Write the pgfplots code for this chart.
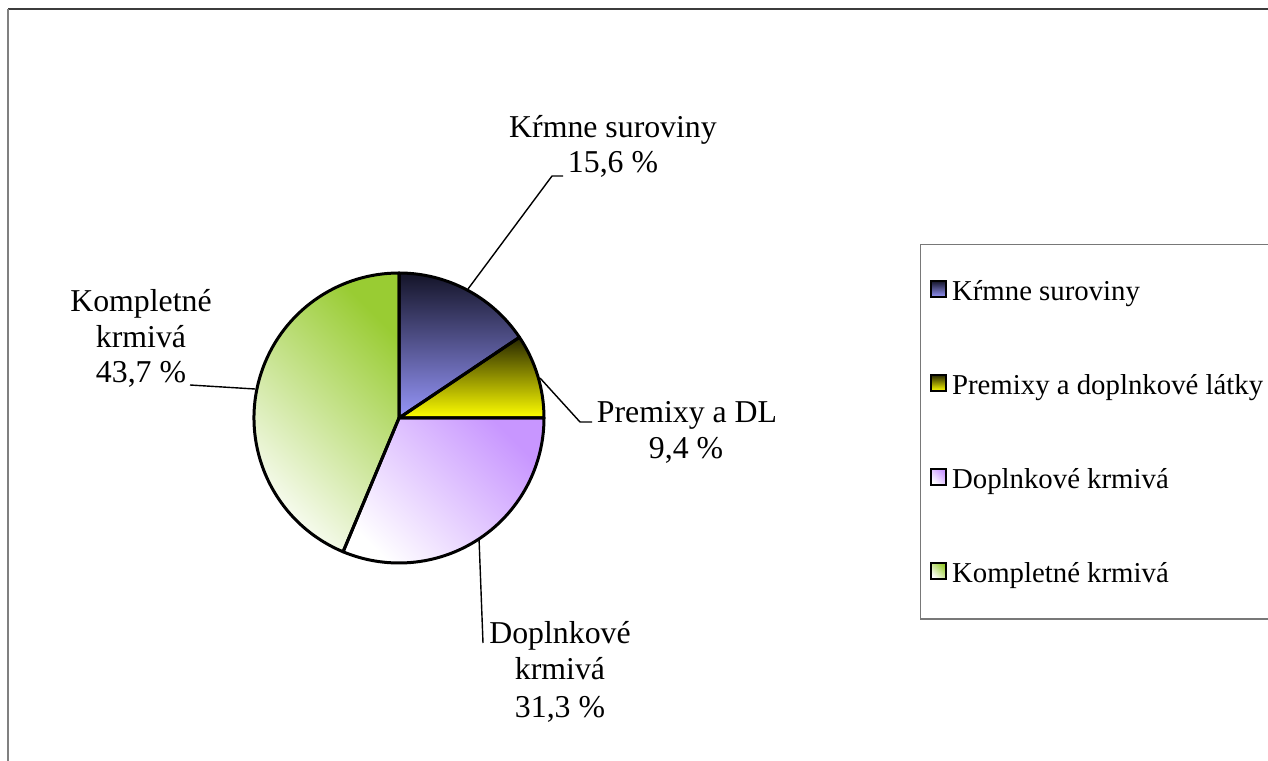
\documentclass[border=0pt]{standalone}
\usepackage{fontspec}
\setmainfont{Liberation Serif}
\usepackage{pgfplots}
\usepackage{pgfplotstable}
\pgfplotsset{compat=1.18}

\definecolor{ksTop}{RGB}{20,20,40}
\definecolor{ksBot}{RGB}{150,150,250}
\definecolor{pmTop}{RGB}{38,38,0}
\definecolor{pmBot}{RGB}{255,255,0}
\definecolor{dkBase}{RGB}{200,150,255}
\definecolor{kkBase}{RGB}{153,204,51}
\definecolor{frameTop}{RGB}{60,60,60}
\definecolor{frameLeft}{RGB}{128,128,128}
\definecolor{legFrame}{RGB}{120,120,120}

\tikzset{
  ksFill/.style={top color=ksTop, bottom color=ksBot},
  pmFill/.style={top color=pmTop, bottom color=pmBot},
  dkFill/.style={top color=dkBase, bottom color=white, shading angle=-45},
  kkFill/.style={top color=kkBase, bottom color=white, shading angle=-45},
  lbl/.style={anchor=base, font=\fontsize{31.8}{35.5}\selectfont, inner sep=0pt},
  leader/.style={line width=1.4pt, black},
  wedgeline/.style={line width=3pt, line join=round, black},
  legmark/.style={line width=2.4pt, black},
}

% shares in percent
\pgfplotstableread{
share
15.6
9.4
31.3
43.7
}\piedata
\pgfplotstablegetelem{0}{share}\of\piedata \let\vA\pgfplotsretval
\pgfplotstablegetelem{1}{share}\of\piedata \let\vB\pgfplotsretval
\pgfplotstablegetelem{2}{share}\of\piedata \let\vC\pgfplotsretval
\pgfplotstablegetelem{3}{share}\of\piedata \let\vD\pgfplotsretval

\pgfmathsetmacro\aA{90}
\pgfmathsetmacro\aB{\aA-3.6*\vA}
\pgfmathsetmacro\aC{\aB-3.6*\vB}
\pgfmathsetmacro\aD{\aC-3.6*\vC}
\pgfmathsetmacro\aE{\aD-3.6*\vD}

\begin{document}
\begin{tikzpicture}
\useasboundingbox (0,0) rectangle (1268pt,760pt);
\begin{axis}[
  x=1pt, y=1pt, xmin=0, xmax=1268, ymin=0, ymax=760,
  hide axis, clip=false, at={(0,0)}, anchor=origin,
  legend cell align=left,
  legend style={
    at={(axis cs:920,516)}, anchor=north west,
    draw=legFrame, line width=1.3pt,
    font=\fontsize{28.8}{32}\selectfont,
    inner xsep=9pt, inner ysep=30pt,
    row sep=61.5pt,
    nodes={inner sep=0pt, text height=26pt, text depth=6.5pt},
    /tikz/every odd column/.append style={column sep=5pt},
  },
]
% frame of the chart area
\draw[frameTop, line width=2pt] (axis cs:8,751) -- (axis cs:1290,751);
\draw[frameLeft, line width=2pt] (axis cs:8,751) -- (axis cs:8,-10);

% pie wedges
\shade[ksFill] (axis cs:399,342) -- ++(\aA:145pt) arc[start angle=\aA, end angle=\aB, radius=145pt] -- cycle;
\shade[pmFill] (axis cs:399,342) -- ++(\aB:145pt) arc[start angle=\aB, end angle=\aC, radius=145pt] -- cycle;
\shade[dkFill] (axis cs:399,342) -- ++(\aC:145pt) arc[start angle=\aC, end angle=\aD, radius=145pt] -- cycle;
\shade[kkFill] (axis cs:399,342) -- ++(\aD:145pt) arc[start angle=\aD, end angle=\aE, radius=145pt] -- cycle;
\draw[wedgeline] (axis cs:399,342) -- ++(\aA:145pt) arc[start angle=\aA, end angle=\aB, radius=145pt] -- cycle;
\draw[wedgeline] (axis cs:399,342) -- ++(\aB:145pt) arc[start angle=\aB, end angle=\aC, radius=145pt] -- cycle;
\draw[wedgeline] (axis cs:399,342) -- ++(\aC:145pt) arc[start angle=\aC, end angle=\aD, radius=145pt] -- cycle;
\draw[wedgeline] (axis cs:399,342) -- ++(\aD:145pt) arc[start angle=\aD, end angle=\aE, radius=145pt] -- cycle;

% leader lines
\draw[leader] (axis cs:468,471) -- (axis cs:552,584) -- (axis cs:563,584);
\draw[leader] (axis cs:540,382) -- (axis cs:580,338) -- (axis cs:592,338);
\draw[leader] (axis cs:479,222) -- (axis cs:483,117);
\draw[leader] (axis cs:255,371) -- (axis cs:190,375);

% data labels
\node[lbl] at (axis cs:613,622.5) {Kŕmne suroviny};
\node[lbl] at (axis cs:613,587) {15,6 \%};
\node[lbl] at (axis cs:687,337) {Premixy a DL};
\node[lbl] at (axis cs:686,301) {9,4 \%};
\node[lbl] at (axis cs:560,116) {Doplnkové};
\node[lbl] at (axis cs:560,80) {krmivá};
\node[lbl] at (axis cs:560,43) {31,3 \%};
\node[lbl] at (axis cs:141,448) {Kompletné};
\node[lbl] at (axis cs:141,412) {krmivá};
\node[lbl] at (axis cs:141,377) {43,7 \%};

% legend
\addlegendimage{legend image code/.code={\shade[ksFill] (0pt,-6pt) rectangle (15pt,10pt); \draw[legmark] (0pt,-6pt) rectangle (15pt,10pt);}}
\addlegendentry{Kŕmne suroviny}
\addlegendimage{legend image code/.code={\shade[pmFill] (0pt,-6pt) rectangle (15pt,10pt); \draw[legmark] (0pt,-6pt) rectangle (15pt,10pt);}}
\addlegendentry{Premixy a doplnkové látky}
\addlegendimage{legend image code/.code={\shade[dkFill] (0pt,-6pt) rectangle (15pt,10pt); \draw[legmark] (0pt,-6pt) rectangle (15pt,10pt);}}
\addlegendentry{Doplnkové krmivá}
\addlegendimage{legend image code/.code={\shade[kkFill] (0pt,-6pt) rectangle (15pt,10pt); \draw[legmark] (0pt,-6pt) rectangle (15pt,10pt);}}
\addlegendentry{Kompletné krmivá}
\end{axis}
\end{tikzpicture}
\end{document}
